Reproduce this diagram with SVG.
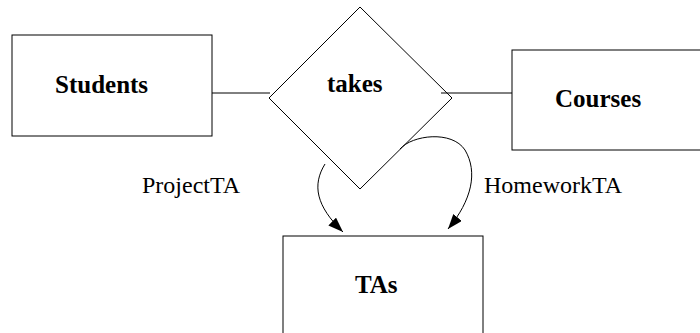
<svg xmlns="http://www.w3.org/2000/svg" width="700" height="333" viewBox="0 0 700 333">
<style>
.box{fill:#fff;stroke:#000;stroke-width:1}
.ln{fill:none;stroke:#000;stroke-width:1}
.b{font-family:"Liberation Serif","Times New Roman",serif;font-weight:bold;font-size:25px;fill:#000}
.r{font-family:"Liberation Serif","Times New Roman",serif;font-size:24px;fill:#000}
</style>
<defs>
<marker id="ah" markerUnits="userSpaceOnUse" markerWidth="16" markerHeight="12" refX="15" refY="5.5" orient="auto">
<path d="M0,0 L15,5.5 L0,11 Z" fill="#000"/>
</marker>
</defs>
<rect width="700" height="333" fill="#fff"/>
<g id="connectors">
<line class="ln" x1="212" y1="93" x2="270" y2="93"/>
<line class="ln" x1="441" y1="93" x2="512" y2="93"/>
<path class="ln" d="M325,164 C312,185 316,206 343,232" marker-end="url(#ah)"/>
<path class="ln" d="M400,149 C412,135 452,130 465,150 C478,172 472,200 448,229" marker-end="url(#ah)"/>
</g>
<g id="students">
<rect class="box" x="12" y="35" width="200" height="101"/>
<text class="b" x="55" y="93">Students</text>
</g>
<g id="takes">
<polygon class="ln" points="360,7 452,98 360,189 269,98"/>
<text class="b" x="327" y="92">takes</text>
</g>
<g id="courses">
<rect class="box" x="512" y="50" width="200" height="100"/>
<text class="b" x="555" y="107">Courses</text>
</g>
<g id="tas">
<rect class="box" x="283" y="236" width="200" height="110"/>
<text class="b" x="355" y="293">TAs</text>
</g>
<g id="labels">
<text class="r" x="142" y="193">ProjectTA</text>
<text class="r" x="484" y="193">HomeworkTA</text>
</g>
</svg>
